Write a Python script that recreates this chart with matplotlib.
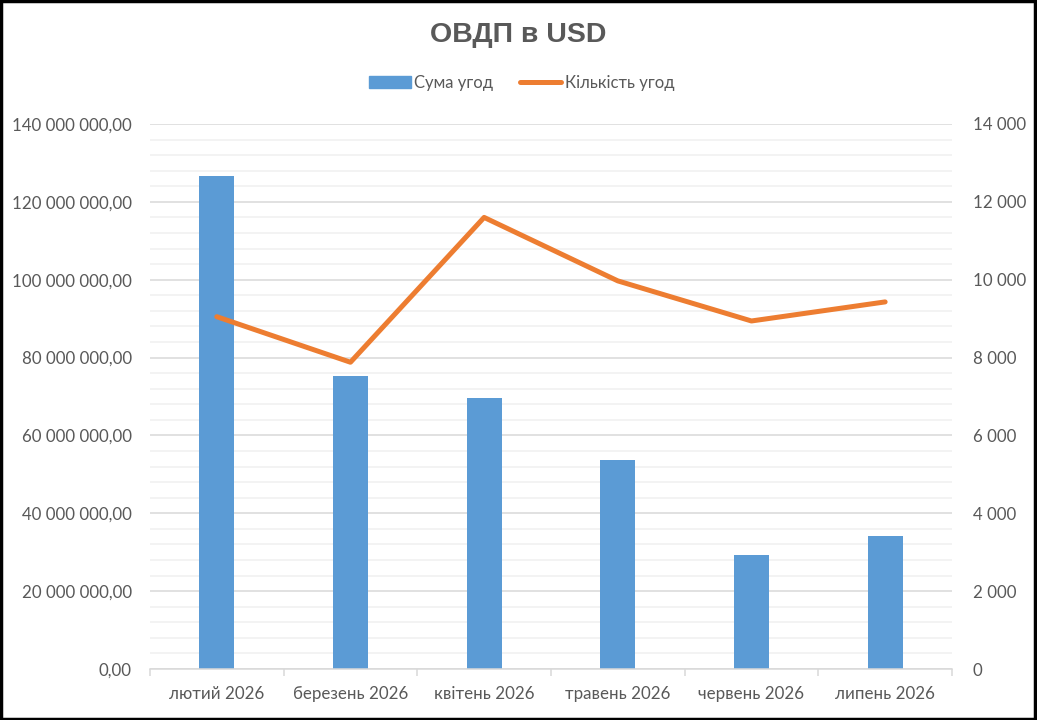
import numpy as np
import matplotlib.pyplot as plt
from matplotlib.ticker import FuncFormatter, MultipleLocator
from matplotlib.patches import Rectangle
from matplotlib.lines import Line2D

plt.rcParams['font.family'] = ['Lato', 'DejaVu Sans']

months = ['лютий 2026', 'березень 2026', 'квітень 2026', 'травень 2026', 'червень 2026', 'липень 2026']
deal_sum = [126.6e6, 75.3e6, 69.6e6, 53.7e6, 29.3e6, 34.2e6]   # Сума угод, USD
deal_count = [9050, 7880, 11600, 9970, 8940, 9430]              # Кількість угод

title = 'ОВДП в USD'
label_sum = 'Сума угод'
label_count = 'Кількість угод'

blue = '#5B9BD5'
orange = '#ED7D31'
txt = '#595959'


def fmt_money(v, pos):
    s = f'{v:,.2f}'.replace(',', ' ').replace('.', ',')
    return s


def fmt_count(v, pos):
    return f'{v:,.0f}'.replace(',', ' ')


fig = plt.figure(figsize=(10.37, 7.2), dpi=100)
ax = fig.add_axes([0.1446, 0.0708, 0.7734, 0.757])
ax2 = ax.twinx()

x = np.arange(len(months))
ax.bar(x, deal_sum, width=0.26, color=blue, zorder=2)
ax2.plot(x, deal_count, color=orange, lw=3.6, solid_capstyle='round', solid_joinstyle='round')

ax.set_xlim(-0.5, len(months) - 0.5)
ax.set_ylim(0, 140e6)
ax2.set_ylim(0, 14000)

ax.yaxis.set_major_locator(MultipleLocator(20e6))
ax.yaxis.set_minor_locator(MultipleLocator(4e6))
ax.yaxis.set_major_formatter(FuncFormatter(fmt_money))
ax2.yaxis.set_major_locator(MultipleLocator(2000))
ax2.yaxis.set_major_formatter(FuncFormatter(fmt_count))

ax.set_axisbelow(True)
ax.grid(axis='y', which='major', color='#d9d9d9', lw=1.1)
ax.grid(axis='y', which='minor', color='#f0f0f0', lw=1.1)

ax.set_xticks(x)
ax.set_xticklabels(months)
ax.set_xticks(np.arange(-0.5, len(months)), minor=True)
ax.tick_params(axis='x', which='major', length=0, pad=12, labelsize=12.2, labelcolor=txt)
ax.tick_params(axis='x', which='minor', length=5, color='#d9d9d9', width=1.1)
ax.tick_params(axis='y', which='both', length=0, pad=13, labelsize=12.2, labelcolor=txt)
ax2.tick_params(axis='y', which='both', length=0, pad=15, labelsize=12.2, labelcolor=txt)

for a in (ax, ax2):
    for side in ('top', 'left', 'right', 'bottom'):
        a.spines[side].set_visible(False)
ax.spines['bottom'].set_visible(True)
ax.spines['bottom'].set_color('#d9d9d9')
ax.spines['bottom'].set_linewidth(1.1)

fig.text(0.5, 0.951, title, ha='center', va='center', fontsize=20.5, fontweight='bold',
         color=txt, family=['Liberation Sans', 'DejaVu Sans'])

handles = [Rectangle((0, 0), 1, 1, color=blue),
           Line2D([0], [0], color=orange, lw=3.6, solid_capstyle='round')]
fig.legend(handles, [label_sum, label_count], loc='center', bbox_to_anchor=(0.503, 0.885),
           ncol=2, frameon=False, fontsize=12, labelcolor=txt, handlelength=2.5,
           handleheight=0.8, handletextpad=0.2, columnspacing=1.6)

fig.patches.append(Rectangle((0.001, 0.001), 0.997, 0.997, transform=fig.transFigure,
                             fill=False, edgecolor='black', lw=2.5))

fig.savefig('out.png', dpi=100)
